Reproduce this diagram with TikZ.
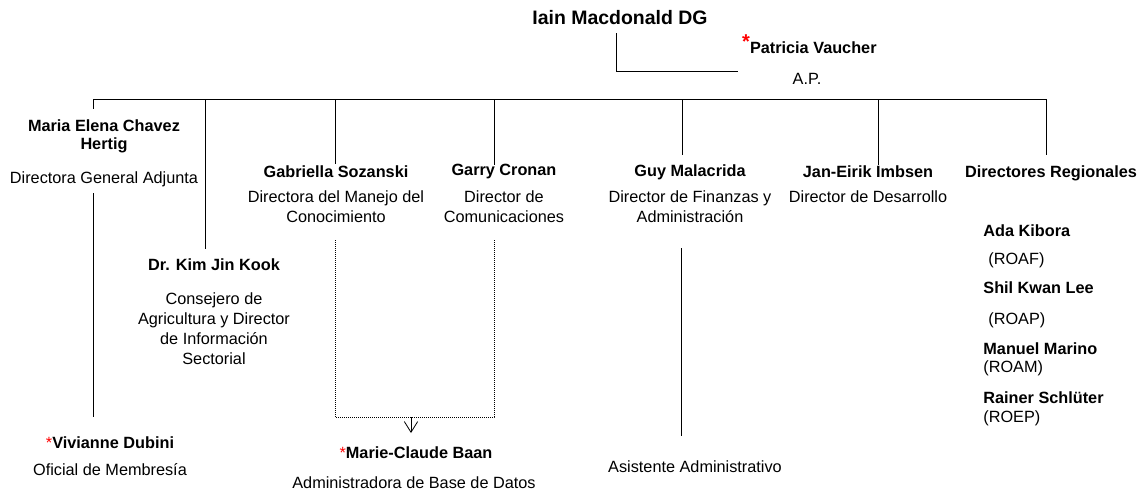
\documentclass[tikz,border=0pt]{standalone}
\usepackage{fontspec}
\setmainfont{Liberation Sans}
\usetikzlibrary{arrows.meta}

\newcommand{\bodysize}{\fontsize{12.2}{15}\selectfont}
\newcommand{\redstar}{{\color{red}\mdseries*}}

\tikzset{
    person/.style={font=\bodysize\bfseries, inner sep=0pt, align=center},
    post/.style={font=\bodysize, inner sep=0pt, align=center},
    dotline/.style={line width=0.6pt, dash pattern=on 0.6pt off 0.9pt},
}

\begin{document}
\begin{tikzpicture}[x=0.75pt, y=-0.75pt, line width=0.6pt]
    \useasboundingbox (0,0) rectangle (1147,490);

    % top
    \node[person, font=\fontsize{14.6}{17}\selectfont\bfseries] (dg) at (620,18) {Iain Macdonald DG};
    \node[person, anchor=east] (pat) at (877,44)
      {\raisebox{3.5pt}{\fontsize{15}{15}\selectfont\color{red}*}Patricia Vaucher};
    \node[post] (ap) at (807,79) {A.P.};
    \coordinate (dg-foot) at (616,33);
    \coordinate (pat-foot) at (738,71);
    \draw (dg-foot) |- (pat-foot);

    % directors
    \node[person] (maria) at (104,136) {Maria Elena Chavez\\[-1.5pt]Hertig};
    \node[post] (maria-post) at (104,179) {Directora General Adjunta};
    \node[person] (kim) at (214,265) {Dr. Kim Jin Kook};
    \node[post] (kim-post) at (214,329) {Consejero de\\Agricultura y Director\\de Información\\Sectorial};
    \node[person] (gabi) at (336,172) {Gabriella Sozanski};
    \node[post] (gabi-post) at (336,207) {Directora del Manejo del\\Conocimiento};
    \node[person] (garry) at (504,172) {Garry Cronan};
    \node[post] (garry-post) at (504,207) {Director de\\Comunicaciones};
    \node[person] (guy) at (690,172) {Guy Malacrida};
    \node[post] (guy-post) at (690,207) {Director de Finanzas y\\Administración};
    \node[person] (jan) at (868,172) {Jan-Eirik Imbsen};
    \node[post] (jan-post) at (868,197) {Director de Desarrollo};
    \node[person] (reg) at (1051,173) {Directores Regionales};

    % regional offices
    \node[person, anchor=west] (ada) at (983,231) {Ada Kibora};
    \node[post, anchor=west] (roaf) at (988,260) {(ROAF)};
    \node[person, anchor=west] (shil) at (983,288) {Shil Kwan Lee};
    \node[post, anchor=west] (roap) at (988,320) {(ROAP)};
    \node[person, anchor=west] (manuel) at (983,349) {Manuel Marino};
    \node[post, anchor=west] (roam) at (983,368) {(ROAM)};
    \node[person, anchor=west] (rainer) at (983,398) {Rainer Schlüter};
    \node[post, anchor=west] (roep) at (983,418) {(ROEP)};

    % staff
    \node[person] (viv) at (110,443) {\redstar Vivianne Dubini};
    \node[post] (viv-post) at (110,470) {Oficial de Membresía};
    \node[person] (mcb) at (416,453) {\redstar Marie-Claude Baan};
    \node[post] (mcb-post) at (414,483) {Administradora de Base de Datos};
    \node[post] (asis) at (695,467) {Asistente Administrativo};

    % bar and drops
    \coordinate (bar-l) at (93,99);
    \coordinate (bar-r) at (1046,99);
    \draw (bar-l) -- (bar-r);
    \foreach \n/\x/\y in {maria/93/109, kim/205/249, gabi/335/164, garry/494/165,
                          guy/682/155, jan/878/165, reg/1046/155} {
        \coordinate (\n-top) at (\x,\y);
        \draw (bar-l -| \n-top) -- (\n-top);
    }

    % lines to staff
    \coordinate (maria-low) at (93,193);
    \coordinate (viv-top) at (93,417);
    \draw (maria-low) -- (viv-top);
    \coordinate (guy-low) at (681,248);
    \coordinate (asis-top) at (681,436);
    \draw (guy-low) -- (asis-top);

    % dotted link
    \coordinate (gabi-low) at (335,240);
    \coordinate (garry-low) at (494,240);
    \coordinate (dot-mid) at (411,417);
    \coordinate (mcb-top) at (411,433);
    \draw[dotline] (gabi-low) |- (dot-mid) -| (garry-low);
    \draw[-{Straight Barb[length=8pt,width=10pt]}] (dot-mid) -- (mcb-top);
\end{tikzpicture}
\end{document}
